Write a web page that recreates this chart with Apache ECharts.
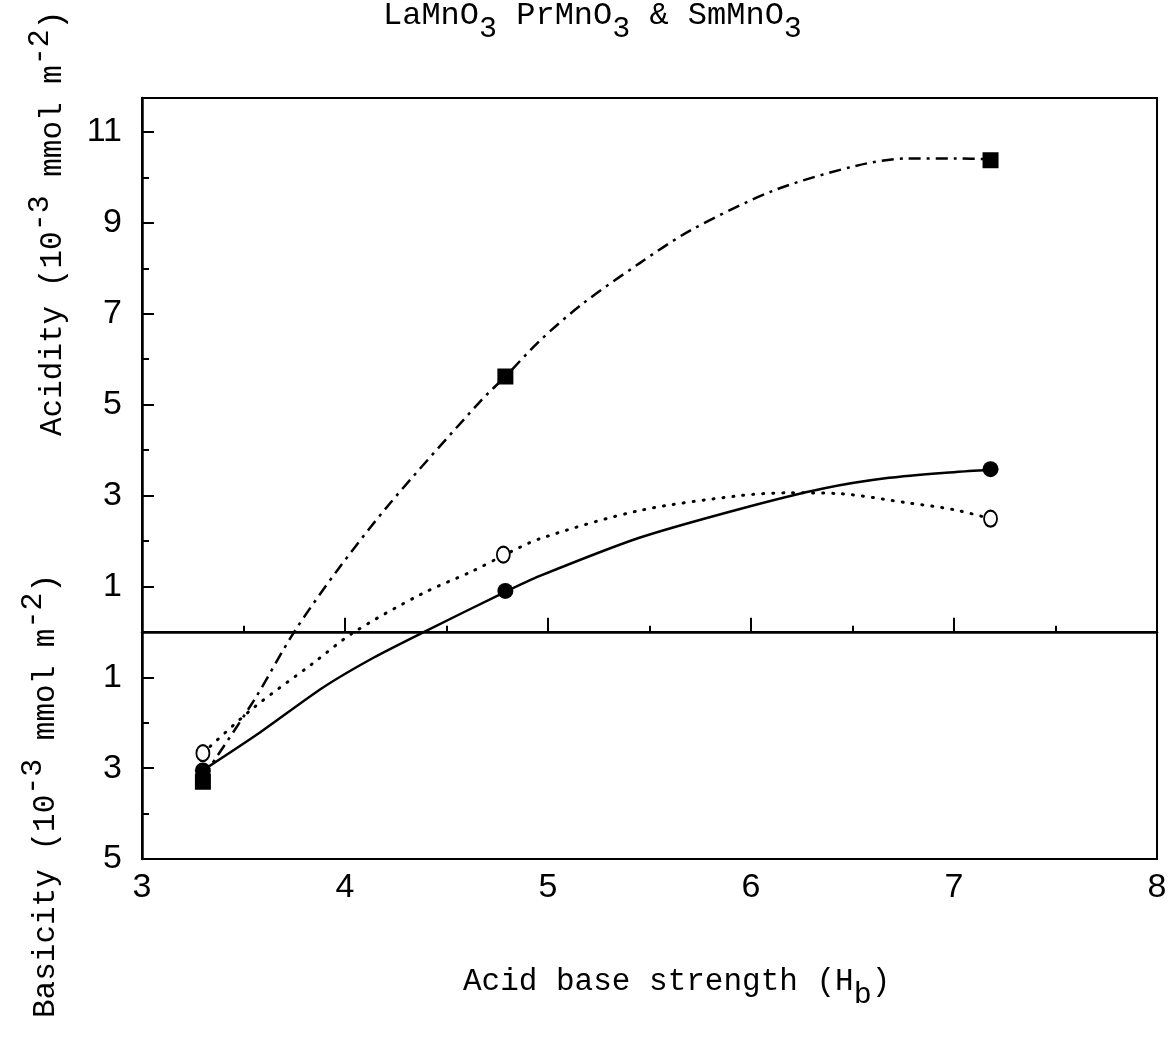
<!DOCTYPE html>
<html>
<head>
<meta charset="utf-8">
<script src="https://cdn.jsdelivr.net/npm/echarts@6/dist/echarts.min.js"></script>
<style>
html, body { margin: 0; padding: 0; background: #fff; }
#main { width: 1175px; height: 1042px; }
</style>
</head>
<body>
<div id="main"></div>
<script>
// tick values
var xTicks = [3, 4, 5, 6, 7, 8];
var yMajorTicks = [-5, -3, -1, 1, 3, 5, 7, 9, 11];
var yMinorTicks = [-4, -2, 0, 2, 4, 6, 8, 10];

// measured points (H_b, amount; negative = basicity)
var squarePts = [[3.3, -3.3], [4.79, 5.62], [7.18, 10.38]];
var filledPts = [[3.3, -3.05], [4.79, 0.9], [7.18, 3.58]];
var openPts = [[3.3, -2.67], [4.78, 1.7], [7.18, 2.49]];

// fitted curves
var squareCurve = [[3.3, -3.2], [3.55, -1.52], [3.75, 0], [3.96, 1.34], [4.22, 2.82],
  [4.67, 5.09], [4.79, 5.62], [4.96, 6.41], [5.17, 7.22], [5.45, 8.11], [5.7, 8.83],
  [6.11, 9.71], [6.52, 10.26], [6.77, 10.42], [7.01, 10.42], [7.18, 10.4]];
var filledCurve = [[3.3, -3.05], [3.57, -2.25], [3.89, -1.23], [4.14, -0.57], [4.39, 0],
  [4.79, 0.88], [4.96, 1.23], [5.45, 2.07], [5.95, 2.71], [6.35, 3.15], [6.68, 3.39],
  [7.01, 3.52], [7.18, 3.57]];
var openCurve = [[3.3, -2.67], [3.55, -1.67], [3.84, -0.7], [4.04, -0.02], [4.38, 0.84],
  [4.63, 1.34], [4.78, 1.68], [4.96, 2.05], [5.45, 2.67], [5.95, 3.0], [6.19, 3.06],
  [6.44, 3.04], [6.77, 2.84], [7.0, 2.69], [7.18, 2.49]];

var mono = 'Liberation Mono';
var num = 'Liberation Sans';

var myChart = echarts.init(document.getElementById('main'));

option = {
  backgroundColor: '#fff',
  animation: false,
  grid: {
    left: 142, right: 18, top: 98, bottom: 183,
    show: true, borderColor: '#000', borderWidth: 2
  },
  graphic: [
    {
      type: 'text', x: 383, y: 16,
      style: {
        text: 'LaMnO{s|3} PrMnO{s|3} & SmMnO{s|3}',
        fontFamily: mono, fontSize: 32, fill: '#000', lineHeight: 56,
        align: 'left', verticalAlign: 'middle',
        rich: { s: { fontFamily: mono, fontSize: 30, verticalAlign: 'bottom', lineHeight: 14 } }
      }
    },
    {
      type: 'text', x: 463, y: 982,
      style: {
        text: 'Acid base strength (H{s|b})',
        fontFamily: mono, fontSize: 31, fill: '#000', lineHeight: 56,
        align: 'left', verticalAlign: 'middle',
        rich: { s: { fontFamily: mono, fontSize: 30, verticalAlign: 'bottom', lineHeight: 14 } }
      }
    },
    {
      type: 'text', x: 53, y: 436, rotation: Math.PI / 2,
      style: {
        text: 'Acidity (10{p|-3} mmol m{p|-2})',
        fontFamily: mono, fontSize: 31, fill: '#000', lineHeight: 56,
        align: 'left', verticalAlign: 'middle',
        rich: { p: { fontFamily: mono, fontSize: 30, verticalAlign: 'top', lineHeight: 26 } }
      }
    },
    {
      type: 'text', x: 46, y: 1018, rotation: Math.PI / 2,
      style: {
        text: 'Basicity (10{p|-3} mmol m{p|-2})',
        fontFamily: mono, fontSize: 31, fill: '#000', lineHeight: 56,
        align: 'left', verticalAlign: 'middle',
        rich: { p: { fontFamily: mono, fontSize: 30, verticalAlign: 'top', lineHeight: 26 } }
      }
    }
  ],
  xAxis: {
    type: 'value', min: 3, max: 8, interval: 1,
    axisLine: { lineStyle: { color: '#000', width: 2.5 } },
    axisTick: { inside: true, length: 14, lineStyle: { color: '#000', width: 2 } },
    minorTick: { show: true, splitNumber: 2, length: 6, lineStyle: { color: '#000', width: 2 } },
    axisLabel: {
      customValues: xTicks, margin: 12,
      fontFamily: num, fontSize: 34, color: '#000'
    },
    splitLine: { show: false }
  },
  yAxis: [
    {
      type: 'value', min: -5, max: 11.75, interval: 1, position: 'left',
      axisLine: { show: true, lineStyle: { color: '#000', width: 2.5 } },
      axisTick: { inside: true, length: 12, customValues: yMajorTicks, lineStyle: { color: '#000', width: 2 } },
      axisLabel: {
        customValues: yMajorTicks, margin: 20,
        fontFamily: num, fontSize: 34, color: '#000',
        formatter: function (v) { return String(Math.abs(v)); }
      },
      splitLine: { show: false }
    },
    {
      type: 'value', min: -5, max: 11.75, interval: 1, position: 'left',
      axisLine: { show: false },
      axisTick: { inside: true, length: 7, customValues: yMinorTicks, lineStyle: { color: '#000', width: 2 } },
      axisLabel: { show: false },
      splitLine: { show: false }
    }
  ],
  series: [
    {
      name: 'squares-fit', type: 'line', data: squareCurve, smooth: 0.3,
      showSymbol: false, silent: true,
      lineStyle: { color: '#000', width: 2.5, type: [12, 6, 3, 6] },
      markLine: {
        silent: true, symbol: 'none', label: { show: false },
        lineStyle: { color: '#000', width: 2, type: 'solid' },
        data: [{ yAxis: 0 }]
      }
    },
    {
      name: 'filled-fit', type: 'line', data: filledCurve, smooth: 0.25,
      showSymbol: false, silent: true,
      lineStyle: { color: '#000', width: 2.5, type: 'solid' }
    },
    {
      name: 'open-fit', type: 'line', data: openCurve, smooth: 0.3,
      showSymbol: false, silent: true,
      lineStyle: { color: '#000', width: 3, type: [1, 9], cap: 'round' }
    },
    {
      name: 'squares', type: 'scatter', data: squarePts, z: 5,
      symbol: 'rect', symbolSize: 16, itemStyle: { color: '#000', opacity: 1 }
    },
    {
      name: 'filled', type: 'scatter', data: filledPts, z: 5,
      symbol: 'circle', symbolSize: 16, itemStyle: { color: '#000', opacity: 1 }
    },
    {
      name: 'open', type: 'scatter', data: openPts, z: 6,
      symbol: 'circle', symbolSize: [13, 16],
      itemStyle: { color: '#fff', borderColor: '#000', borderWidth: 2, opacity: 1 }
    }
  ]
};

myChart.setOption(option);
window.addEventListener('resize', function () { myChart.resize(); });
</script>
</body>
</html>
